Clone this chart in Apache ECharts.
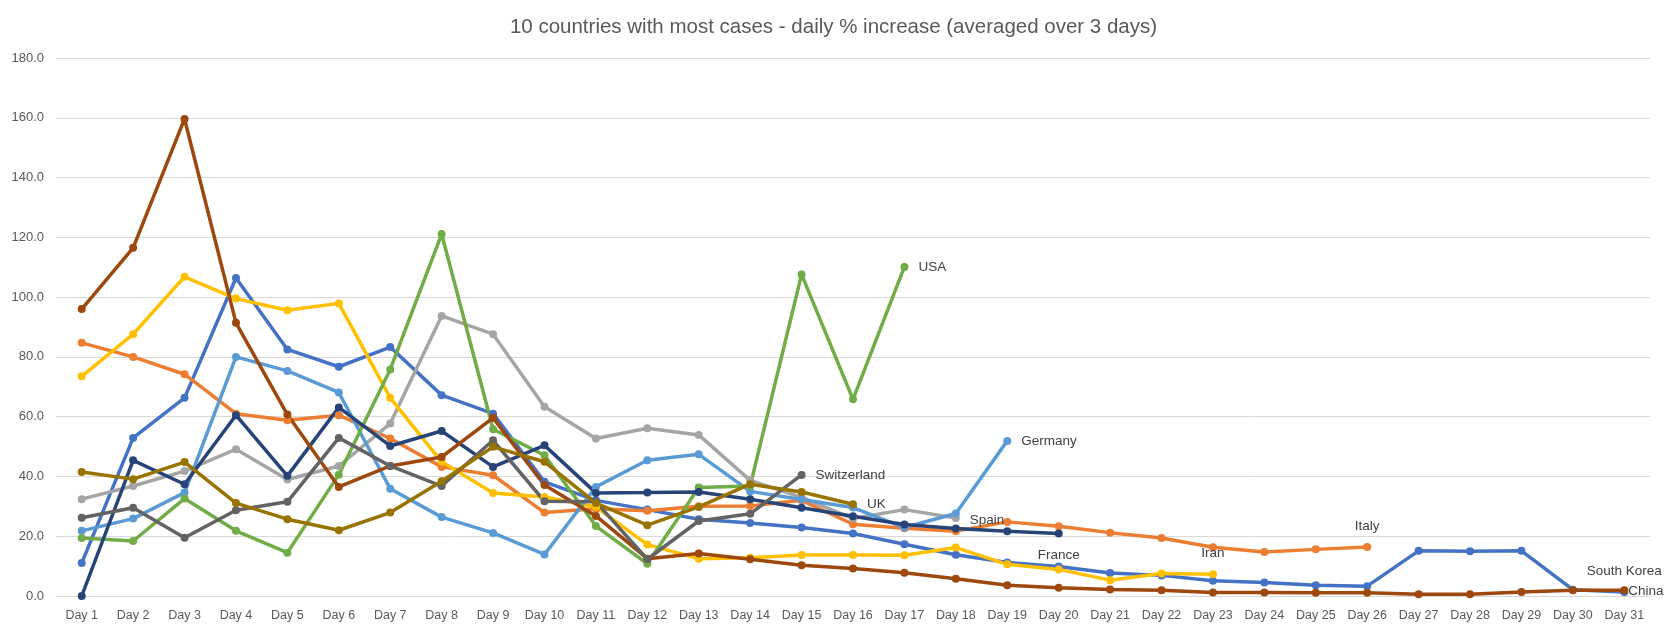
<!DOCTYPE html>
<html><head><meta charset="utf-8">
<script src="https://cdn.jsdelivr.net/npm/echarts@6/dist/echarts.min.js"></script>
<style>html,body{margin:0;padding:0;background:#fff}#c{width:1667px;height:633px}</style>
</head><body><div id="c"></div>
<script>
const days = Array.from({length: 31}, (_, i) => 'Day ' + (i + 1));
const southKorea = [11, 52.9, 66.3, 106.4, 82.5, 76.7, 83.3, 67.2, 61, 38.2, 32, 28.9, 25.7, 24.4, 22.9, 20.9, 17.3, 13.8, 11.2, 9.9, 7.7, 6.9, 5.1, 4.5, 3.6, 3.3, 15.1, 15, 15.1, 2.1, 1.3];
const italy = [84.7, 80, 74.2, 61, 58.8, 60.5, 52.7, 43.2, 40.4, 27.9, 29.2, 28.5, 30, 30.1, 32, 24, 22.7, 21.7, 24.8, 23.3, 21.2, 19.4, 16.3, 14.7, 15.6, 16.4];
const spain = [32.4, 36.8, 41.8, 49.1, 39, 43.5, 57.7, 93.7, 87.6, 63.3, 52.7, 56.1, 53.9, 38.7, 33, 25.9, 28.9, 26.1];
const iran = [73.5, 87.6, 106.8, 99.5, 95.6, 97.9, 66.3, 44.9, 34.5, 33.1, 29.8, 17.2, 12.5, 12.8, 13.7, 13.7, 13.6, 16.2, 10.6, 8.9, 5.3, 7.5, 7.3];
const germany = [21.8, 25.9, 34.6, 80, 75.3, 68.1, 35.9, 26.4, 21.1, 13.9, 36.5, 45.4, 47.4, 35, 32.3, 29.6, 22.9, 27.6, 51.9];
const usa = [19.4, 18.4, 32.6, 21.8, 14.5, 40.6, 75.8, 121.1, 55.8, 47.1, 23.4, 10.8, 36.3, 36.8, 107.6, 65.8, 110.1];
const france = [0, 45.4, 37.4, 60.5, 40.2, 63.1, 50.2, 55.2, 43.2, 50.4, 34.5, 34.6, 34.8, 32.4, 29.5, 26.7, 23.9, 22.6, 21.7, 20.9];
const china = [96, 116.5, 159.6, 91.4, 60.7, 36.5, 43.5, 46.5, 59.6, 37.1, 26.8, 12.5, 14.2, 12.3, 10.3, 9.2, 7.8, 5.8, 3.6, 2.8, 2.2, 1.9, 1.2, 1.2, 1.1, 1.1, 0.6, 0.6, 1.3, 1.9, 1.9];
const switzerland = [26.2, 29.5, 19.5, 28.7, 31.5, 52.9, 43.5, 36.8, 52.1, 31.7, 31.5, 12.3, 25.1, 27.5, 40.5];
const uk = [41.5, 39.1, 44.8, 31.1, 25.7, 22, 27.9, 38.4, 49.9, 44.9, 31.1, 23.7, 29.8, 37.4, 34.8, 30.7];

const seriesDefs = [
  {name: 'South Korea', data: southKorea, color: '#4472C4', pos: 'top'},
  {name: 'Italy', data: italy, color: '#ED7D31', pos: 'top'},
  {name: 'Spain', data: spain, color: '#A5A5A5', pos: 'right'},
  {name: 'Iran', data: iran, color: '#FFC000', pos: 'top'},
  {name: 'Germany', data: germany, color: '#5B9BD5', pos: 'right'},
  {name: 'USA', data: usa, color: '#70AD47', pos: 'right'},
  {name: 'France', data: france, color: '#264478', pos: 'bottom'},
  {name: 'China', data: china, color: '#9E480E', pos: 'right'},
  {name: 'Switzerland', data: switzerland, color: '#636363', pos: 'right'},
  {name: 'UK', data: uk, color: '#997300', pos: 'right'}
];

const labelOffsets = {
  'South Korea': [0, 0], 'Italy': [0, 0], 'Spain': [0, 2], 'Iran': [0, 0],
  'France': [0, 1], 'China': [-10, 1]
};

const series = seriesDefs.map(s => ({
  name: s.name,
  type: 'line',
  symbol: 'circle',
  symbolSize: 8,
  lineStyle: {width: 3.5, color: s.color},
  itemStyle: {color: s.color},
  emphasis: {disabled: true},
  data: s.data.map((v, i) => i === s.data.length - 1 ? {
    value: v,
    label: {
      show: true, position: s.pos, distance: 10,
      offset: labelOffsets[s.name] || [0, 0],
      formatter: s.name, color: '#404040',
      fontFamily: 'Liberation Sans, Arial, sans-serif', fontSize: 13.5
    }
  } : v)
}));

const chart = echarts.init(document.getElementById('c'), null, {renderer: 'canvas'});
chart.setOption({
  animation: false,
  title: {
    text: '10 countries with most cases - daily % increase (averaged over 3 days)',
    left: 'center', top: 12,
    textStyle: {color: '#595959', fontSize: 20.5, fontWeight: 'normal', fontFamily: 'Liberation Sans, Arial, sans-serif'}
  },
  grid: {left: 56, right: 17, top: 58, bottom: 37, containLabel: false},
  xAxis: {
    type: 'category', data: days, boundaryGap: true,
    axisLine: {lineStyle: {color: '#D9D9D9'}},
    axisTick: {show: false},
    axisLabel: {color: '#595959', fontSize: 12.5, margin: 13, interval: 0, fontFamily: 'Liberation Sans, Arial, sans-serif'}
  },
  yAxis: {
    type: 'value', min: 0, max: 180, interval: 20,
    axisLine: {show: false}, axisTick: {show: false},
    splitLine: {lineStyle: {color: '#D9D9D9', width: 1}},
    axisLabel: {color: '#595959', fontSize: 13, margin: 12, formatter: v => v.toFixed(1), fontFamily: 'Liberation Sans, Arial, sans-serif'}
  },
  series: series
});
</script>
</body></html>
